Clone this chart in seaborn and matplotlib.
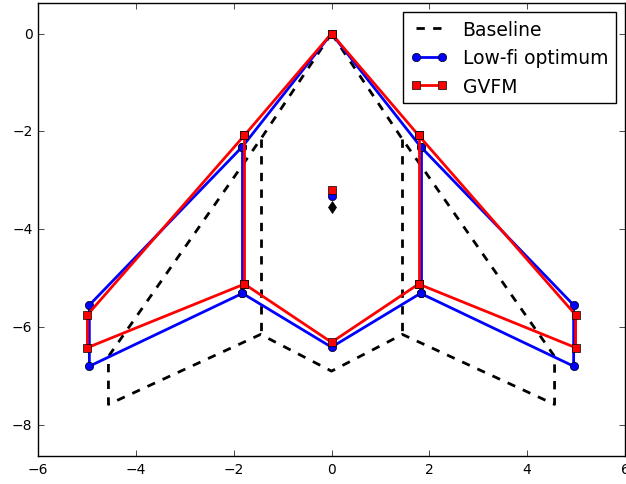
import matplotlib
matplotlib.use("Agg")
import matplotlib.pyplot as plt
import seaborn as sns

# Planform outlines (half-span sections mirrored), x = span, y = chord direction
base_x = [0, -1.45, -4.56, -4.56, -1.45, 0, 1.45, 4.56, 4.56, 1.45, 0]
base_y = [0, -2.16, -6.60, -7.58, -6.15, -6.90, -6.15, -7.58, -6.60, -2.16, 0]
base_kink_x = [-1.45, 1.45]
base_kink_y = [[-2.16, -6.15], [-2.16, -6.15]]
base_cg = (0, -3.54)

lofi_x = [0, -1.82, -4.95, -4.95, -1.82, 0, 1.82, 4.95, 4.95, 1.82, 0]
lofi_y = [0, -2.31, -5.55, -6.80, -5.31, -6.41, -5.31, -6.80, -5.55, -2.31, 0]
lofi_kink_x = [-1.82, 1.82]
lofi_kink_y = [[-2.31, -5.31], [-2.31, -5.31]]
lofi_cg = (0, -3.33)

gvfm_x = [0, -1.78, -4.99, -4.99, -1.78, 0, 1.78, 4.99, 4.99, 1.78, 0]
gvfm_y = [0, -2.08, -5.75, -6.42, -5.12, -6.31, -5.12, -6.42, -5.75, -2.08, 0]
gvfm_kink_x = [-1.78, 1.78]
gvfm_kink_y = [[-2.08, -5.12], [-2.08, -5.12]]
gvfm_cg = (0, -3.19)

plt.style.use("classic")
fig = plt.figure(figsize=(6.26, 4.85), dpi=100, facecolor="white")
ax = fig.add_axes([38 / 626, 1 - 457 / 485, 587 / 626, 453 / 485])

mk = dict(markeredgecolor="k", markeredgewidth=0.5)
ms = 6
handles = []

# Baseline
sns.lineplot(x=base_x, y=base_y, sort=False, estimator=None, ax=ax,
             color="k", lw=2, linestyle="--", label="Baseline")
handles.append(ax.lines[-1])
for kx, ky in zip(base_kink_x, base_kink_y):
    sns.lineplot(x=[kx, kx], y=ky, sort=False, estimator=None, ax=ax,
                 color="k", lw=2, linestyle="--")
ax.plot(*base_cg, marker="d", color="k", markersize=6, **mk)

# Low-fi optimum
sns.lineplot(x=lofi_x, y=lofi_y, sort=False, estimator=None, ax=ax,
             color="b", lw=2, marker="o", markersize=ms, label="Low-fi optimum", **mk)
handles.append(ax.lines[-1])
for kx, ky in zip(lofi_kink_x, lofi_kink_y):
    sns.lineplot(x=[kx, kx], y=ky, sort=False, estimator=None, ax=ax,
                 color="b", lw=2, marker="o", markersize=ms, **mk)
ax.plot(*lofi_cg, marker="o", color="b", markersize=ms, **mk)

# GVFM
sns.lineplot(x=gvfm_x, y=gvfm_y, sort=False, estimator=None, ax=ax,
             color="r", lw=2, marker="s", markersize=ms, label="GVFM", **mk)
handles.append(ax.lines[-1])
for kx, ky in zip(gvfm_kink_x, gvfm_kink_y):
    sns.lineplot(x=[kx, kx], y=ky, sort=False, estimator=None, ax=ax,
                 color="r", lw=2, marker="s", markersize=ms, **mk)
ax.plot(*gvfm_cg, marker="s", color="r", markersize=ms, **mk)

ax.set_xlim(-6, 6)
ax.set_ylim(-4.005 - 4.63, -4.005 + 4.63)
ax.set_xticks([-6, -4, -2, 0, 2, 4, 6])
ax.set_yticks([-8, -6, -4, -2, 0])
ax.tick_params(labelsize=10)
ax.set_xlabel("")
ax.set_ylabel("")

ax.legend(handles=handles, labels=["Baseline", "Low-fi optimum", "GVFM"],
          loc="upper right", fontsize=13.5, numpoints=2)

fig.savefig("out.png", dpi=100, facecolor="white")
